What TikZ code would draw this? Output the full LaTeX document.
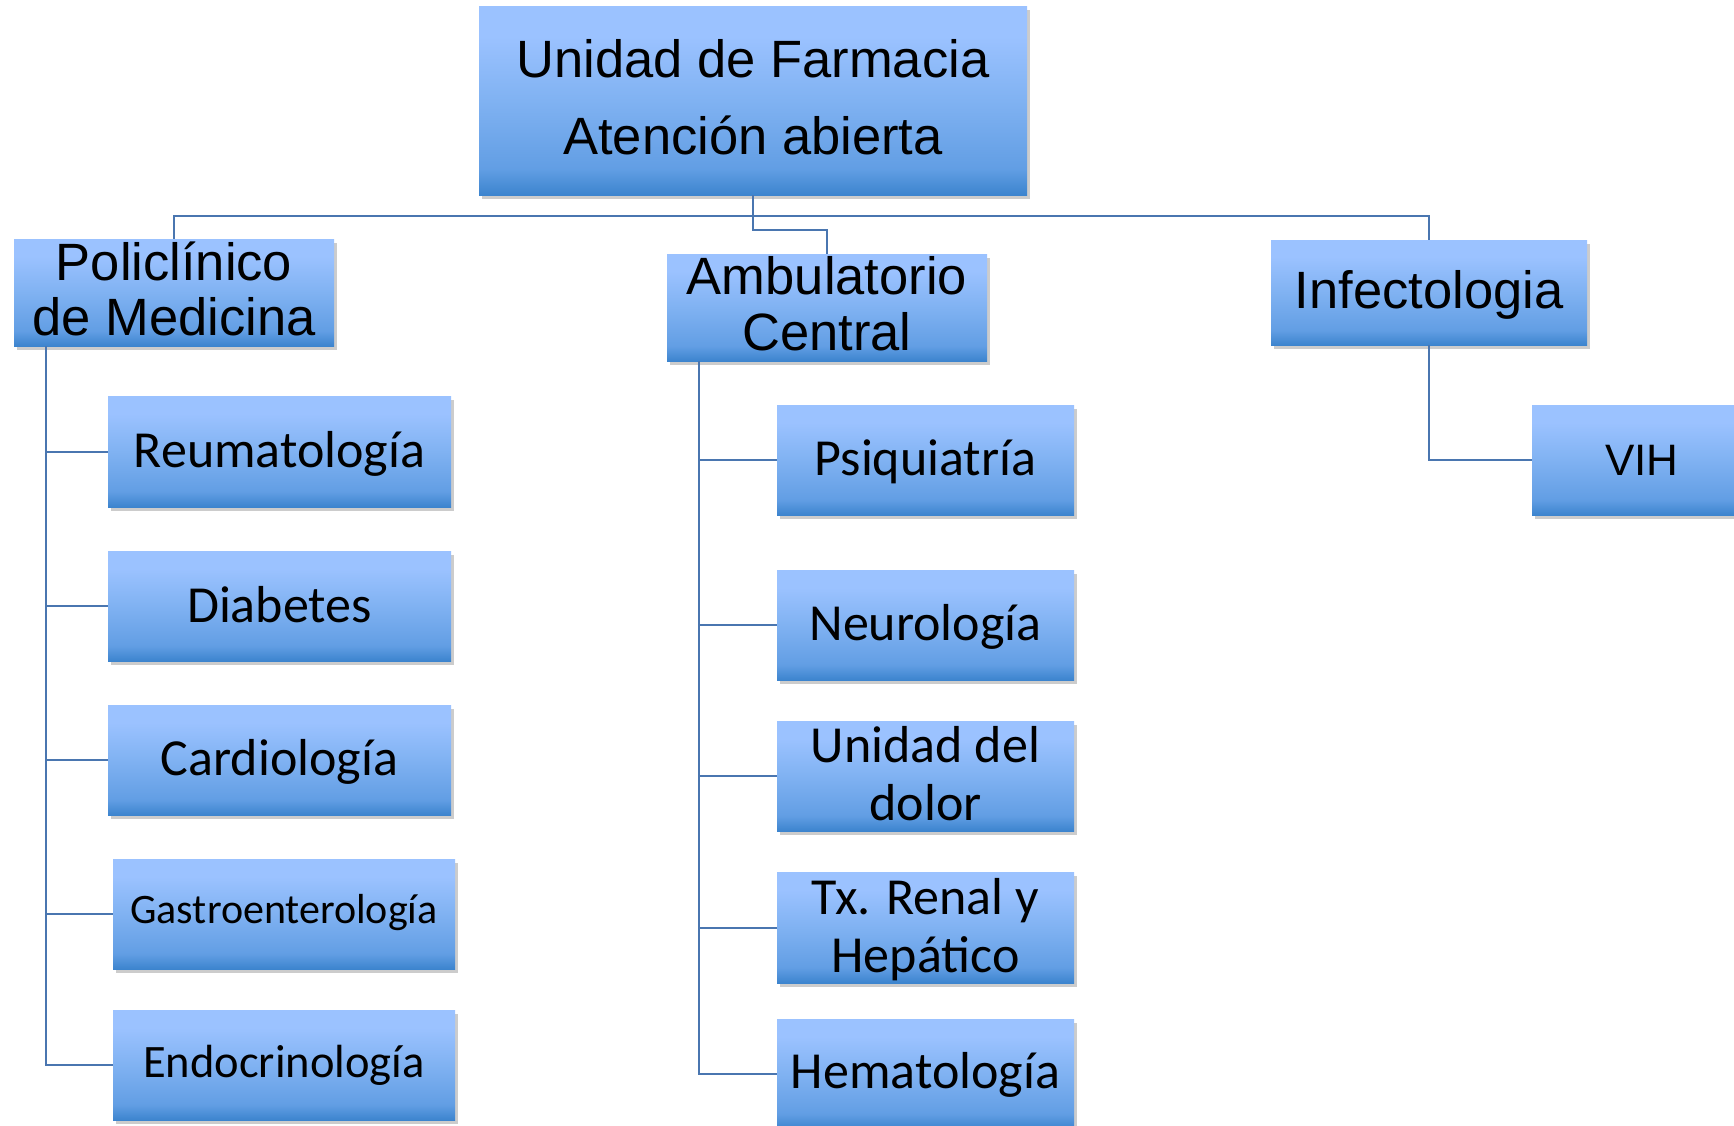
\documentclass[tikz,border=0pt]{standalone}
\usepackage{fontspec}
\setmainfont{Carlito}
\newfontfamily\arialf{Liberation Sans}
\usetikzlibrary{shadows}
\definecolor{gA}{RGB}{60,132,206}
\definecolor{gB}{RGB}{98,158,228}
\definecolor{gC}{RGB}{128,178,242}
\definecolor{gD}{RGB}{155,194,255}
\definecolor{conncol}{RGB}{74,118,176}
\pgfdeclareverticalshading{boxgrad}{100bp}{color(0bp)=(gA); color(25bp)=(gA); color(32bp)=(gB); color(50bp)=(gC); color(67bp)=(gD); color(100bp)=(gD)}
\newcommand\mytwo[2]{\vbox{\halign{\hfil##\hfil\cr#1\cr#2\cr}}}
\tikzset{
  box/.style={rectangle, shading=boxgrad, draw=none, inner sep=0pt, text=black, text depth=0pt,
    drop shadow={shadow xshift=2.5pt, shadow yshift=-3.5pt, fill=black, opacity=0.2}},
  lvla/.style={font=\arialf\fontsize{52.5}{62}\selectfont},
  lvlb/.style={font=\fontsize{52}{62}\selectfont},
  colL/.style={box, lvlb, minimum width=343pt, minimum height=110pt},
  colM/.style={box, lvlb, minimum width=297pt, minimum height=110pt},
  conn/.style={draw=conncol, line width=2pt}
}
\begin{document}
\begin{tikzpicture}[x=1pt, y=-1pt]
\fill[white] (0,0) rectangle (1734,1125);
\useasboundingbox (0,0) rectangle (1734,1125);
\clip (0,0) rectangle (1734,1125);

\node[box, font=\arialf\fontsize{52.5}{77}\selectfont, minimum width=548pt, minimum height=189pt, text height=107pt] (top) at (753,100.5) {\mytwo{Unidad de Farmacia}{Atención abierta}};

\node[box, font=\arialf\fontsize{52.5}{55}\selectfont, minimum width=320pt, minimum height=107pt, text height=85pt] (pol) at (174,292.5) {\mytwo{Policlínico}{de Medicina}};
\node[box, font=\arialf\fontsize{52.5}{56}\selectfont, minimum width=320pt, minimum height=107pt, text height=85pt] (amb) at (827,307.5) {\mytwo{Ambulatorio}{Central}};
\node[box, lvla, minimum width=316pt, minimum height=105pt, text height=31pt] (inf) at (1429,292.5) {Infectologia};
\node[box, font=\arialf\fontsize{44}{52}\selectfont, minimum width=220pt, minimum height=110pt, text height=30pt] (vih) at (1642,460) {VIH};

\node[colL, minimum height=111pt, text height=31pt] (reuma) at (279.5,451.5) {Reumatología};
\node[colL, text height=32pt] (diab) at (279.5,606) {Diabetes};
\node[colL, text height=30pt] (card) at (279.5,760) {Cardiología};
\node[colL, minimum width=342pt, font=\fontsize{42}{50}\selectfont, text height=18pt] (gastro) at (284,914) {Gastroenterología};
\node[colL, minimum width=342pt, font=\fontsize{46.5}{55}\selectfont, text height=24pt] (endo) at (284,1065) {Endocrinología};

\node[colM, text height=30pt] (psiq) at (925.5,460) {Psiquiatría};
\node[colM, text height=30pt] (neuro) at (925.5,625) {Neurología};
\node[colM, font=\fontsize{52}{58}\selectfont, text height=88pt] (dolor) at (925.5,776) {\mytwo{Unidad del}{dolor}};
\node[colM, minimum height=111pt, font=\fontsize{52}{58}\selectfont, text height=89pt] (tx) at (925.5,927.5) {\mytwo{Tx. Renal y}{Hepático}};
\node[colM, text height=28pt] (hema) at (925.5,1074) {Hematología};

\coordinate (bus) at (753,216);
\coordinate (ambj) at (753,230);
\draw[conn] (top.south) -- (bus);
\draw[conn] (bus) -| (pol.north);
\draw[conn] (bus) -| (inf.north);
\draw[conn] (bus) -- (ambj) -| (amb.north);

\coordinate (polv) at ([xshift=32pt]pol.south west);
\coordinate (ambv) at ([xshift=32pt]amb.south west);
\draw[conn] (polv) |- (endo.west);
\foreach \n in {reuma,diab,card,gastro} \draw[conn] (\n.west) -- (\n.west -| polv);
\draw[conn] (ambv) |- (hema.west);
\foreach \n in {psiq,neuro,dolor,tx} \draw[conn] (\n.west) -- (\n.west -| ambv);
\draw[conn] (inf.south) |- (vih.west);
\end{tikzpicture}
\end{document}
